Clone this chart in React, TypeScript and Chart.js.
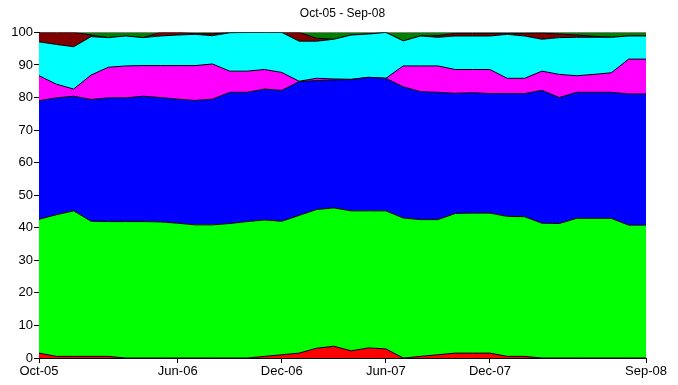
import React, { useEffect, useRef } from "react";
import { Chart, registerables } from "chart.js";

Chart.register(...registerables);

const months = [
  "Oct-05", "Nov-05", "Dec-05", "Jan-06", "Feb-06", "Mar-06", "Apr-06", "May-06", "Jun-06",
  "Jul-06", "Aug-06", "Sep-06", "Oct-06", "Nov-06", "Dec-06", "Jan-07", "Feb-07", "Mar-07",
  "Apr-07", "May-07", "Jun-07", "Jul-07", "Aug-07", "Sep-07", "Oct-07", "Nov-07", "Dec-07",
  "Jan-08", "Feb-08", "Mar-08", "Apr-08", "May-08", "Jun-08", "Jul-08", "Aug-08", "Sep-08",
];

const shownLabels = ["Oct-05", "Jun-06", "Dec-06", "Jun-07", "Dec-07", "Sep-08"];

const yTicks = [0, 10, 20, 30, 40, 50, 60, 70, 80, 90, 100];

const titleText = "Oct-05 - Sep-08";

const redSeries = [1.5, 0.5, 0.5, 0.5, 0.5, 0, 0, 0, 0, 0, 0, 0, 0, 0.5, 1.0, 1.5, 3.0, 3.6, 2.2, 3.1, 2.8, 0, 0.5, 1.0, 1.5, 1.5, 1.5, 0.5, 0.5, 0, 0, 0, 0, 0, 0, 0];
const limeSeries = [41.1, 43.5, 44.7, 41.5, 41.4, 41.9, 41.9, 41.8, 41.4, 40.9, 40.9, 41.3, 41.9, 41.9, 41.0, 42.3, 42.6, 42.5, 43.0, 42.1, 42.4, 43.0, 42.0, 41.5, 42.9, 43.0, 43.0, 43.0, 42.9, 41.4, 41.3, 42.9, 42.9, 42.9, 40.8, 40.8];
const blueSeries = [36.4, 35.9, 35.2, 37.4, 38.0, 38.0, 38.5, 38.2, 38.1, 38.2, 38.6, 40.3, 39.7, 40.2, 40.2, 41.1, 39.6, 39.3, 40.3, 41.0, 40.7, 40.3, 39.3, 39.1, 36.9, 37.0, 36.7, 37.7, 37.8, 40.8, 38.7, 38.7, 38.7, 38.7, 40.3, 40.3];
const magentaSeries = [7.7, 4.2, 2.2, 7.5, 9.4, 9.8, 9.4, 9.8, 10.3, 10.7, 10.8, 6.5, 6.5, 6.0, 5.5, 0.1, 0.7, 0.3, 0.1, 0, 0, 6.4, 7.9, 8.1, 7.3, 7.1, 7.4, 4.7, 4.7, 5.9, 7.1, 5.1, 5.5, 6.0, 10.7, 10.7];
const cyanSeries = [10.4, 12.2, 13.0, 11.8, 9.1, 9.2, 8.6, 9.1, 9.4, 9.6, 8.7, 11.8, 11.9, 11.4, 12.3, 12.3, 11.4, 12.2, 13.6, 13.3, 14.1, 7.7, 9.2, 8.8, 10.3, 10.3, 10.3, 13.5, 13.0, 9.8, 11.3, 11.8, 11.4, 10.9, 7.1, 7.1];
const maroonSeries = [2.9, 3.7, 4.4, 0.5, 0, 0, 0, 1.1, 0.8, 0.2, 0.6, 0.1, 0, 0, 0, 2.7, 0.9, 0, 0, 0, 0, 0, 0, 0.5, 0.8, 0.8, 0.8, 0.3, 0.8, 1.9, 1.1, 0.7, 0.3, 0, 0, 0];
const greenSeries = [0, 0, 0, 0.8, 1.6, 1.1, 1.6, 0, 0, 0.4, 0.4, 0, 0, 0, 0, 0, 1.8, 2.1, 0.8, 0.5, 0, 2.6, 1.1, 1.0, 0.3, 0.3, 0.3, 0.3, 0.3, 0.2, 0.5, 0.8, 1.2, 1.5, 1.1, 1.1];

const seriesList = [
  { name: "S1", data: redSeries, color: "#ff0000" },
  { name: "S2", data: limeSeries, color: "#00ff00" },
  { name: "S3", data: blueSeries, color: "#0000ff" },
  { name: "S4", data: magentaSeries, color: "#ff00ff" },
  { name: "S5", data: cyanSeries, color: "#00ffff" },
  { name: "S6", data: maroonSeries, color: "#800000" },
  { name: "S7", data: greenSeries, color: "#008000" },
];

const FONT = "'Liberation Sans', Arial, sans-serif";

export default function App() {
  const canvasRef = useRef<HTMLCanvasElement | null>(null);

  useEffect(() => {
    document.body.style.margin = "0";
    const canvas = canvasRef.current;
    if (!canvas) return;
    const chart = new Chart(canvas, {
      type: "line",
      data: {
        labels: months,
        datasets: seriesList.map((s, i) => ({
          label: s.name,
          data: s.data,
          backgroundColor: s.color,
          borderColor: "#000000",
          borderWidth: 1,
          pointRadius: 0,
          tension: 0,
          fill: i === 0 ? "origin" : "-1",
        })),
      },
      options: {
        animation: false,
        responsive: false,
        maintainAspectRatio: false,
        layout: { padding: { left: 0, right: 32, top: 0, bottom: 0 } },
        plugins: {
          legend: { display: false },
          tooltip: { enabled: false },
          title: {
            display: true,
            text: titleText,
            fullSize: false,
            color: "#000000",
            font: { family: FONT, size: 12, weight: "normal" },
            padding: { top: 6, bottom: 12 },
          },
        },
        scales: {
          x: {
            type: "category",
            offset: false,
            grid: {
              display: true,
              drawOnChartArea: false,
              drawTicks: true,
              tickLength: 5,
              color: "#000000",
            },
            border: { display: true, color: "#000000", width: 1 },
            ticks: {
              autoSkip: false,
              maxRotation: 0,
              minRotation: 0,
              padding: 1,
              color: "#000000",
              font: { family: FONT, size: 13 },
              callback: (_v: any, i: number) =>
                shownLabels.includes(months[i]) ? months[i] : null,
            },
            afterFit: (s: any) => {
              s.height = 27;
            },
          },
          y: {
            stacked: true,
            min: 0,
            max: 100,
            grid: {
              display: true,
              drawOnChartArea: false,
              drawTicks: true,
              tickLength: 5,
              color: "#000000",
            },
            border: { display: true, color: "#000000", width: 1 },
            ticks: {
              stepSize: 10,
              padding: 1,
              color: "#000000",
              font: { family: FONT, size: 13 },
              callback: (v: any) => (yTicks.includes(Number(v)) ? String(v) : null),
            },
            afterFit: (s: any) => {
              s.width = 39;
            },
          },
        },
      },
    } as any);
    return () => chart.destroy();
  }, []);

  return (
    <div style={{ width: 678, height: 385, position: "relative" }}>
      <canvas ref={canvasRef} width={678} height={385} style={{ display: "block" }} />
    </div>
  );
}
